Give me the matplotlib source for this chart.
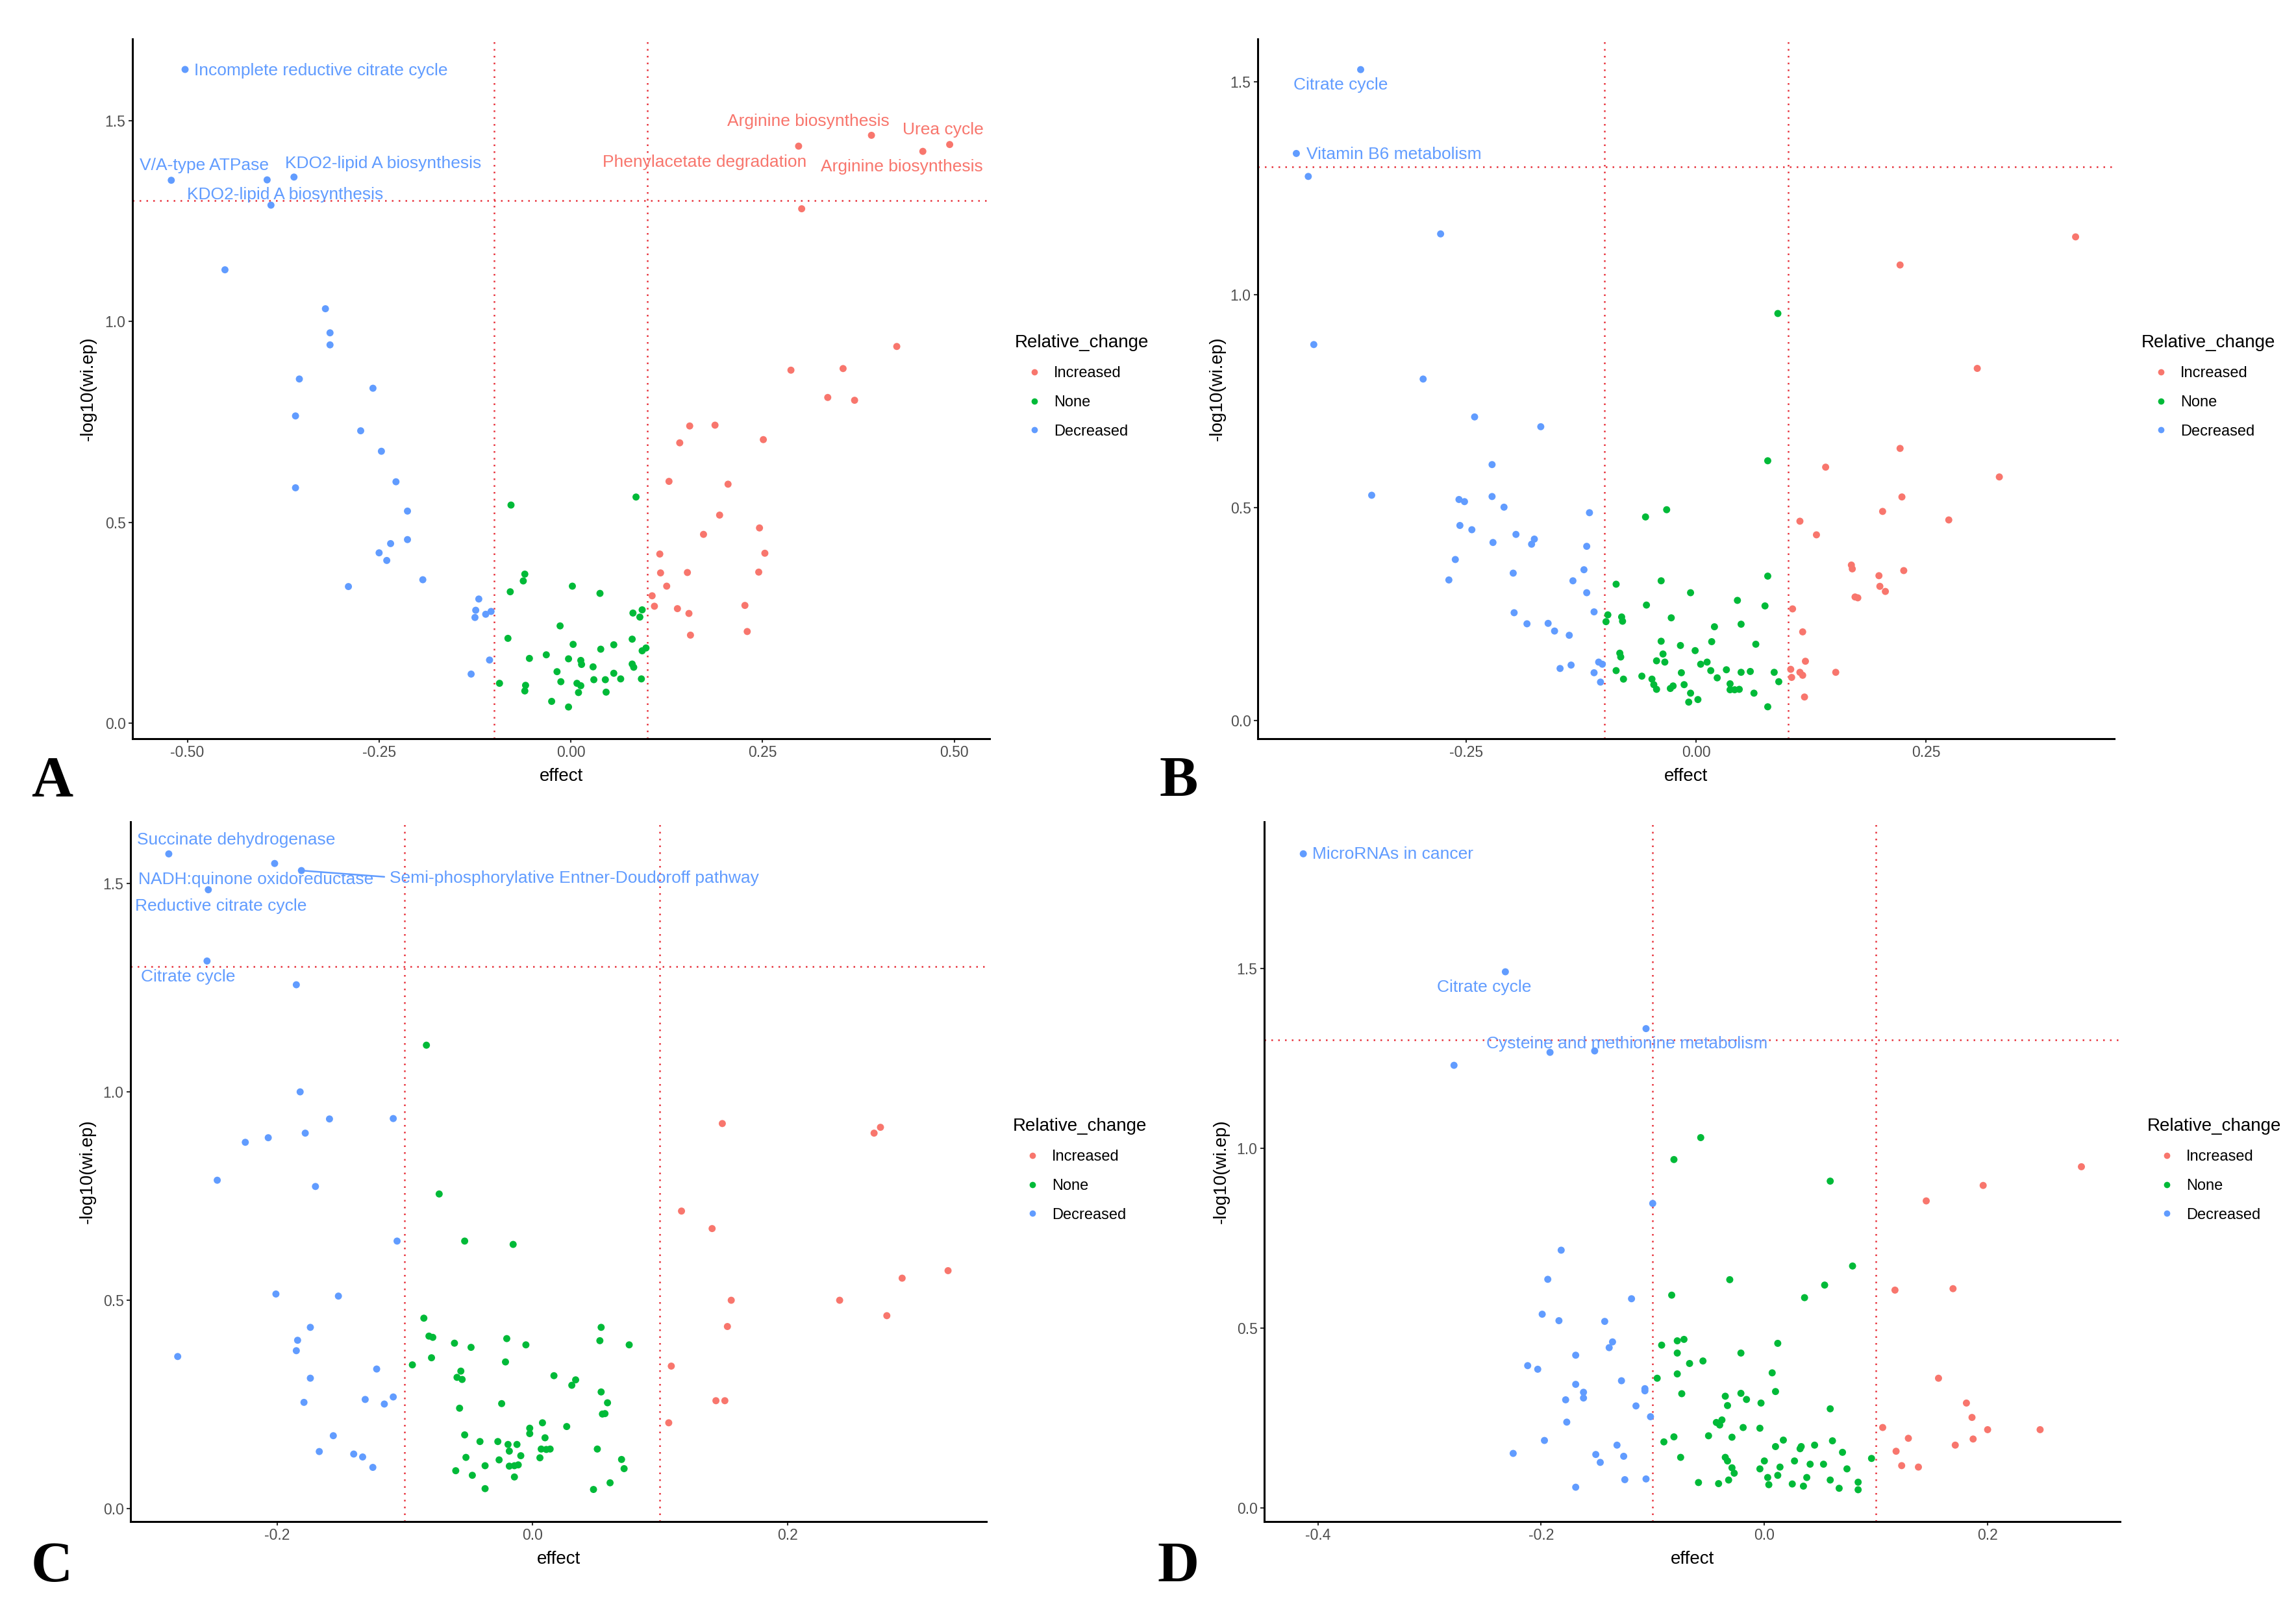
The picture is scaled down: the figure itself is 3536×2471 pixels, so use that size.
import matplotlib
matplotlib.use("Agg")
import matplotlib.pyplot as plt
from matplotlib.lines import Line2D

plt.rcParams['font.family'] = ['Liberation Sans', 'DejaVu Sans']

# ggplot default palette
COL_INC = '#F8766D'
COL_NONE = '#00BA38'
COL_DEC = '#619CFF'
COLORS = {'inc': COL_INC, 'none': COL_NONE, 'dec': COL_DEC}

P_CUT = 1.301      # -log10(0.05)
EFFECT_CUT = 0.1

# ---------------- Panel A data (effect, -log10(wi.ep)) ----------------
A_INC = [(0.297, 1.437), (0.392, 1.464), (0.459, 1.424), (0.494, 1.441), (0.301, 1.281),
         (0.425, 0.938), (0.287, 0.879), (0.355, 0.883), (0.335, 0.811), (0.370, 0.804),
         (0.155, 0.740), (0.188, 0.742), (0.142, 0.698), (0.251, 0.706), (0.128, 0.602),
         (0.205, 0.595), (0.194, 0.518), (0.173, 0.470), (0.246, 0.486), (0.116, 0.421),
         (0.253, 0.423), (0.117, 0.374), (0.152, 0.375), (0.245, 0.376), (0.125, 0.341),
         (0.106, 0.317), (0.109, 0.291), (0.139, 0.285), (0.154, 0.273), (0.227, 0.293),
         (0.156, 0.219), (0.230, 0.228)]
A_NONE = [(-0.078, 0.543), (0.085, 0.563), (-0.060, 0.371), (-0.062, 0.354), (-0.079, 0.327),
          (0.002, 0.341), (0.038, 0.323), (0.081, 0.274), (0.093, 0.282), (0.090, 0.264),
          (-0.014, 0.242), (-0.082, 0.211), (0.080, 0.209), (0.056, 0.195), (0.003, 0.196),
          (0.098, 0.187), (0.093, 0.180), (0.039, 0.184), (-0.032, 0.170), (-0.054, 0.161),
          (-0.003, 0.160), (0.013, 0.156), (0.014, 0.146), (0.029, 0.140), (0.080, 0.147),
          (0.082, 0.139), (-0.018, 0.128), (0.056, 0.124), (0.030, 0.108), (0.045, 0.108),
          (0.065, 0.110), (0.092, 0.110), (-0.013, 0.103), (0.008, 0.099), (0.013, 0.093),
          (-0.093, 0.099), (-0.059, 0.094), (-0.060, 0.080), (0.010, 0.076), (0.046, 0.077),
          (-0.025, 0.054), (-0.003, 0.040)]
A_DEC = [(-0.503, 1.628), (-0.521, 1.352), (-0.396, 1.353), (-0.361, 1.360), (-0.391, 1.290),
         (-0.451, 1.129), (-0.320, 1.032), (-0.314, 0.972), (-0.314, 0.942), (-0.354, 0.857),
         (-0.258, 0.834), (-0.359, 0.765), (-0.274, 0.728), (-0.247, 0.677), (-0.359, 0.586),
         (-0.228, 0.601), (-0.213, 0.528), (-0.213, 0.457), (-0.235, 0.447), (-0.250, 0.424),
         (-0.240, 0.405), (-0.193, 0.357), (-0.290, 0.340), (-0.120, 0.309), (-0.124, 0.281),
         (-0.104, 0.278), (-0.111, 0.271), (-0.125, 0.263), (-0.106, 0.157), (-0.130, 0.122)]
A_LABELS = [("Incomplete reductive citrate cycle", 'dec'), ("V/A-type ATPase", 'dec'),
            ("KDO2-lipid A biosynthesis", 'dec'), ("KDO2-lipid A biosynthesis", 'dec'),
            ("Arginine biosynthesis", 'inc'), ("Urea cycle", 'inc'),
            ("Phenylacetate degradation", 'inc'), ("Arginine biosynthesis", 'inc')]

# ---------------- Panel B data ----------------
B_INC = [(0.413, 1.136), (0.222, 1.070), (0.306, 0.827), (0.222, 0.639), (0.141, 0.595),
         (0.330, 0.572), (0.224, 0.525), (0.203, 0.491), (0.275, 0.471), (0.113, 0.468),
         (0.131, 0.436), (0.169, 0.365), (0.170, 0.356), (0.199, 0.340), (0.226, 0.352),
         (0.200, 0.315), (0.206, 0.303), (0.173, 0.290), (0.176, 0.288), (0.105, 0.262),
         (0.116, 0.208), (0.119, 0.139), (0.103, 0.120), (0.113, 0.113), (0.116, 0.106),
         (0.104, 0.101), (0.152, 0.113), (0.118, 0.055)]
B_NONE = [(0.089, 0.956), (0.078, 0.610), (-0.055, 0.478), (-0.032, 0.495), (-0.087, 0.320),
          (-0.038, 0.328), (0.078, 0.339), (-0.006, 0.300), (-0.054, 0.271), (0.045, 0.282),
          (0.075, 0.269), (-0.096, 0.248), (-0.081, 0.243), (-0.080, 0.233), (-0.098, 0.232),
          (-0.027, 0.241), (0.049, 0.226), (0.020, 0.220), (-0.038, 0.186), (-0.017, 0.176),
          (0.017, 0.185), (-0.001, 0.164), (0.065, 0.179), (-0.083, 0.158), (-0.082, 0.149),
          (-0.036, 0.156), (-0.043, 0.140), (-0.034, 0.137), (0.012, 0.137), (0.005, 0.132),
          (-0.087, 0.117), (-0.016, 0.112), (0.016, 0.117), (0.023, 0.100), (0.033, 0.119),
          (0.049, 0.113), (0.059, 0.115), (0.085, 0.113), (-0.079, 0.097), (-0.059, 0.104),
          (-0.048, 0.097), (-0.046, 0.084), (-0.043, 0.073), (-0.013, 0.084), (-0.028, 0.075),
          (-0.025, 0.081), (0.037, 0.086), (0.037, 0.072), (0.042, 0.072), (0.047, 0.073),
          (0.090, 0.091), (-0.006, 0.064), (0.002, 0.049), (-0.008, 0.043), (0.063, 0.064),
          (0.078, 0.032)]
B_DEC = [(-0.365, 1.529), (-0.435, 1.332), (-0.422, 1.278), (-0.278, 1.143), (-0.416, 0.883),
         (-0.297, 0.802), (-0.241, 0.713), (-0.169, 0.690), (-0.222, 0.601), (-0.353, 0.529),
         (-0.258, 0.519), (-0.252, 0.514), (-0.222, 0.526), (-0.209, 0.501), (-0.116, 0.488),
         (-0.257, 0.458), (-0.244, 0.448), (-0.221, 0.418), (-0.196, 0.437), (-0.176, 0.426),
         (-0.179, 0.414), (-0.119, 0.409), (-0.262, 0.378), (-0.269, 0.330), (-0.199, 0.346),
         (-0.122, 0.354), (-0.134, 0.328), (-0.119, 0.300), (-0.198, 0.253), (-0.111, 0.255),
         (-0.184, 0.227), (-0.161, 0.228), (-0.154, 0.210), (-0.138, 0.200), (-0.136, 0.130),
         (-0.148, 0.122), (-0.106, 0.137), (-0.102, 0.132), (-0.111, 0.112), (-0.104, 0.090)]
B_LABELS = [("Citrate cycle", 'dec'), ("Vitamin B6 metabolism", 'dec')]

# ---------------- Panel C data ----------------
C_INC = [(0.149, 0.924), (0.268, 0.901), (0.273, 0.915), (0.117, 0.714), (0.141, 0.672),
         (0.326, 0.571), (0.290, 0.553), (0.156, 0.500), (0.241, 0.500), (0.278, 0.463),
         (0.153, 0.437), (0.109, 0.342), (0.144, 0.259), (0.151, 0.259), (0.107, 0.206)]
C_NONE = [(-0.083, 1.112), (-0.073, 0.755), (-0.053, 0.642), (-0.015, 0.634), (-0.085, 0.457),
          (0.054, 0.435), (-0.081, 0.414), (-0.078, 0.411), (0.053, 0.403), (-0.020, 0.408),
          (-0.061, 0.397), (-0.048, 0.387), (-0.005, 0.393), (0.076, 0.393), (-0.079, 0.362),
          (-0.094, 0.345), (-0.021, 0.352), (-0.056, 0.330), (-0.059, 0.315), (-0.055, 0.310),
          (0.017, 0.319), (0.034, 0.309), (0.031, 0.296), (0.054, 0.280), (0.059, 0.254),
          (-0.057, 0.241), (-0.024, 0.252), (0.055, 0.227), (0.057, 0.228), (0.008, 0.206),
          (0.027, 0.197), (-0.002, 0.193), (-0.002, 0.180), (-0.053, 0.177), (0.010, 0.170),
          (-0.041, 0.161), (-0.027, 0.161), (-0.019, 0.154), (-0.012, 0.154), (0.007, 0.143),
          (0.011, 0.142), (0.014, 0.143), (0.051, 0.143), (-0.018, 0.138), (-0.009, 0.127),
          (0.006, 0.122), (-0.052, 0.123), (-0.026, 0.117), (0.070, 0.118), (-0.037, 0.103),
          (-0.018, 0.102), (-0.014, 0.103), (-0.011, 0.105), (-0.060, 0.091), (0.072, 0.096),
          (-0.047, 0.080), (-0.014, 0.076), (0.061, 0.062), (-0.037, 0.048), (0.048, 0.046)]
C_DEC = [(-0.285, 1.571), (-0.202, 1.548), (-0.181, 1.531), (-0.254, 1.485), (-0.255, 1.314),
         (-0.185, 1.257), (-0.182, 1.000), (-0.159, 0.935), (-0.109, 0.936), (-0.178, 0.901),
         (-0.207, 0.890), (-0.225, 0.879), (-0.247, 0.788), (-0.170, 0.773), (-0.106, 0.642),
         (-0.201, 0.515), (-0.152, 0.510), (-0.174, 0.435), (-0.184, 0.404), (-0.185, 0.379),
         (-0.278, 0.365), (-0.122, 0.335), (-0.174, 0.313), (-0.109, 0.268), (-0.131, 0.262),
         (-0.116, 0.251), (-0.179, 0.255), (-0.156, 0.175), (-0.167, 0.137), (-0.140, 0.131),
         (-0.133, 0.124), (-0.125, 0.099)]
C_LABELS = [("Succinate dehydrogenase", 'dec'), ("NADH:quinone oxidoreductase", 'dec'),
            ("Semi-phosphorylative Entner-Doudoroff pathway", 'dec'),
            ("Reductive citrate cycle", 'dec'), ("Citrate cycle", 'dec')]

# ---------------- Panel D data ----------------
D_INC = [(0.284, 0.948), (0.196, 0.896), (0.145, 0.853), (0.117, 0.605), (0.169, 0.609),
         (0.156, 0.360), (0.181, 0.291), (0.186, 0.251), (0.106, 0.223), (0.200, 0.217),
         (0.247, 0.217), (0.129, 0.193), (0.187, 0.191), (0.171, 0.174), (0.118, 0.157),
         (0.123, 0.117), (0.138, 0.113)]
D_NONE = [(-0.057, 1.029), (-0.081, 0.968), (0.059, 0.908), (0.079, 0.672), (-0.031, 0.634),
          (0.054, 0.619), (-0.083, 0.591), (0.036, 0.584), (-0.072, 0.468), (-0.078, 0.464),
          (-0.092, 0.452), (0.012, 0.457), (-0.078, 0.430), (-0.021, 0.430), (-0.067, 0.401),
          (-0.055, 0.408), (-0.078, 0.372), (0.007, 0.375), (-0.096, 0.360), (0.010, 0.323),
          (-0.021, 0.318), (-0.074, 0.317), (-0.035, 0.310), (-0.016, 0.301), (-0.003, 0.291),
          (-0.033, 0.284), (0.059, 0.275), (-0.038, 0.244), (-0.043, 0.237), (-0.019, 0.223),
          (-0.040, 0.230), (-0.004, 0.221), (-0.050, 0.200), (-0.081, 0.197), (-0.029, 0.196),
          (0.017, 0.188), (0.061, 0.186), (-0.090, 0.183), (0.010, 0.170), (0.033, 0.170),
          (0.032, 0.164), (0.045, 0.174), (0.070, 0.154), (-0.075, 0.140), (-0.035, 0.140),
          (-0.033, 0.130), (0.096, 0.137), (0.027, 0.130), (0.000, 0.130), (0.041, 0.121),
          (0.053, 0.121), (-0.029, 0.111), (-0.004, 0.108), (0.014, 0.113), (0.074, 0.108),
          (-0.027, 0.096), (0.012, 0.090), (0.003, 0.084), (0.038, 0.084), (-0.032, 0.077),
          (-0.059, 0.070), (-0.041, 0.067), (0.004, 0.064), (0.025, 0.066), (0.035, 0.060),
          (0.059, 0.077), (0.084, 0.071), (0.067, 0.054), (0.084, 0.050)]
D_DEC = [(-0.413, 1.818), (-0.232, 1.490), (-0.106, 1.332), (-0.192, 1.266), (-0.152, 1.270),
         (-0.278, 1.230), (-0.100, 0.846), (-0.182, 0.716), (-0.194, 0.635), (-0.119, 0.581),
         (-0.199, 0.538), (-0.184, 0.520), (-0.143, 0.518), (-0.136, 0.461), (-0.139, 0.445),
         (-0.169, 0.424), (-0.212, 0.395), (-0.203, 0.385), (-0.128, 0.353), (-0.169, 0.343),
         (-0.107, 0.331), (-0.107, 0.325), (-0.162, 0.321), (-0.162, 0.305), (-0.178, 0.300),
         (-0.115, 0.283), (-0.102, 0.253), (-0.177, 0.238), (-0.197, 0.187), (-0.132, 0.174),
         (-0.225, 0.151), (-0.151, 0.148), (-0.126, 0.143), (-0.147, 0.126), (-0.125, 0.078),
         (-0.106, 0.080), (-0.169, 0.057)]
D_LABELS = [("MicroRNAs in cancer", 'dec'), ("Citrate cycle", 'dec'),
            ("Cysteine and methionine metabolism", 'dec')]

LEGEND_NAMES = ["Increased", "None", "Decreased"]

# ---------------- layout ----------------
W, H = 3536, 2471
fig = plt.figure(figsize=(W / 100, H / 100), dpi=100)


def fig_rect(left, top, right, bottom):
    return [left / W, 1 - bottom / H, (right - left) / W, (bottom - top) / H]


panels = [
    dict(rect=fig_rect(204, 60, 1524, 1138), data=(A_INC, A_NONE, A_DEC),
         xlim=(-0.5716, 0.546), ylim=(-0.039, 1.704),
         xticks=[-0.5, -0.25, 0, 0.25, 0.5], xfmt='{:.2f}',
         labels=A_LABELS,
         label_xy=[(-0.326, 1.624), (-0.478, 1.389), (-0.245, 1.394), (-0.3725, 1.316),
                   (0.310, 1.499), (0.485, 1.477), (0.1747, 1.397), (0.432, 1.385)],
         leader=None, ylab_x=-0.052, letter='A', letter_xy=(80, 1226),
         legend_xy=(1563, 515)),
    dict(rect=fig_rect(1937, 60, 3256, 1138), data=(B_INC, B_NONE, B_DEC),
         xlim=(-0.477, 0.455), ylim=(-0.043, 1.601),
         xticks=[-0.25, 0, 0.25], xfmt='{:.2f}',
         labels=B_LABELS,
         label_xy=[(-0.387, 1.492), (-0.329, 1.330)],
         leader=None, ylab_x=-0.047, letter='B', letter_xy=(1815, 1226),
         legend_xy=(3298, 515)),
    dict(rect=fig_rect(201, 1266, 1519, 2344), data=(C_INC, C_NONE, C_DEC),
         xlim=(-0.315, 0.356), ylim=(-0.031, 1.648),
         xticks=[-0.2, 0, 0.2], xfmt='{:.1f}',
         labels=C_LABELS,
         label_xy=[(-0.232, 1.605), (-0.2165, 1.510), (0.033, 1.512), (-0.244, 1.445),
                   (-0.270, 1.276)],
         leader=(2, 2), ylab_x=-0.050, letter='C', letter_xy=(80, 2436),
         legend_xy=(1560, 1722)),
    dict(rect=fig_rect(1947, 1266, 3265, 2344), data=(D_INC, D_NONE, D_DEC),
         xlim=(-0.448, 0.3186), ylim=(-0.0385, 1.907),
         xticks=[-0.4, -0.2, 0, 0.2], xfmt='{:.1f}',
         labels=D_LABELS,
         label_xy=[(-0.333, 1.817), (-0.251, 1.446), (-0.123, 1.289)],
         leader=None, ylab_x=-0.050, letter='D', letter_xy=(1815, 2436),
         legend_xy=(3307, 1722)),
]

line_kw = dict(color='#E8323C', lw=1.8, linestyle=(0, (1, 3.2)), zorder=1)

for p in panels:
    ax = fig.add_axes(p['rect'])
    inc, none, dec = p['data']
    for pts, key in ((inc, 'inc'), (none, 'none'), (dec, 'dec')):
        xs = [v[0] for v in pts]
        ys = [v[1] for v in pts]
        ax.scatter(xs, ys, s=62, color=COLORS[key], edgecolors='none', zorder=3)

    ax.axvline(-EFFECT_CUT, **line_kw)
    ax.axvline(EFFECT_CUT, **line_kw)
    ax.axhline(P_CUT, **line_kw)

    # repelled labels
    for (name, grp), (tx, ty) in zip(p['labels'], p['label_xy']):
        ax.text(tx, ty, name, color=COLORS[grp], fontsize=19, ha='center', va='center',
                zorder=4)
    if p['leader'] is not None:
        pi, li = p['leader']
        px, py = dec[pi]
        ax.annotate('', xy=(px, py), xytext=(-0.116, 1.516),
                    arrowprops=dict(arrowstyle='-', color=COL_DEC, lw=1.8,
                                    shrinkA=0, shrinkB=3))

    ax.set_xlim(*p['xlim'])
    ax.set_ylim(*p['ylim'])
    ax.set_xticks(p['xticks'])
    ax.set_xticklabels([p['xfmt'].format(t) for t in p['xticks']])
    ax.set_yticks([0, 0.5, 1.0, 1.5])
    ax.set_yticklabels(['0.0', '0.5', '1.0', '1.5'])
    for side in ('top', 'right'):
        ax.spines[side].set_visible(False)
    for side in ('left', 'bottom'):
        ax.spines[side].set_linewidth(2.2)
        ax.spines[side].set_color('black')
    ax.tick_params(axis='both', length=4.5, width=1.5, color='#333333',
                   labelcolor='#4D4D4D', labelsize=16.5, pad=3)

    ax.set_xlabel('effect', fontsize=20)
    ax.xaxis.set_label_coords(0.5, -0.054)
    ax.xaxis.label.set_va('center')
    ax.set_ylabel('-log10(wi.ep)', fontsize=20)
    ax.yaxis.set_label_coords(p['ylab_x'], 0.5)
    ax.yaxis.label.set_va('center')

    # legend
    handles = [Line2D([], [], marker='o', linestyle='none', markersize=7,
                      markerfacecolor=c, markeredgecolor='none')
               for c in (COL_INC, COL_NONE, COL_DEC)]
    lx, ly = p['legend_xy']
    ax.legend(handles, LEGEND_NAMES, title='Relative_change', loc='upper left',
              bbox_to_anchor=(lx / W, 1 - ly / H), bbox_transform=fig.transFigure,
              frameon=False, fontsize=17, title_fontsize=20, borderpad=0,
              borderaxespad=0, handlelength=2.5, handletextpad=0.05,
              labelspacing=0.97, alignment='left')

    lx, ly = p['letter_xy']
    fig.text(lx / W, 1 - ly / H, p['letter'], fontsize=64, fontweight='bold',
             family='Liberation Serif', ha='center', va='baseline')

fig.savefig('out.png', dpi=100, facecolor='white')
